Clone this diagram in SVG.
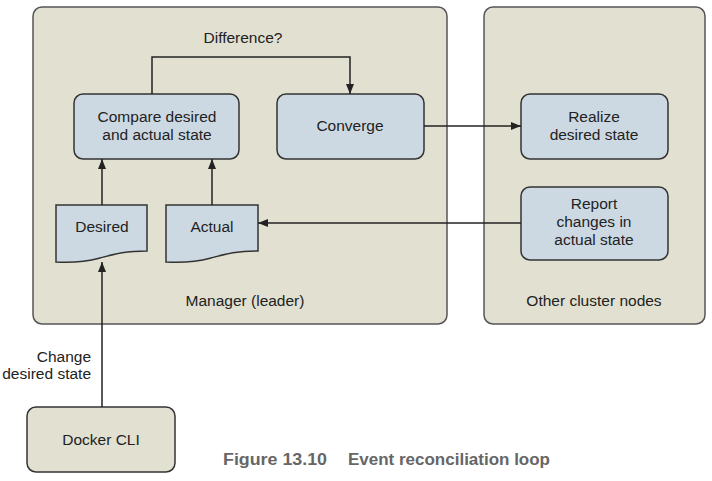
<svg xmlns="http://www.w3.org/2000/svg" width="712" height="481" viewBox="0 0 712 481">
<defs>
<style>
.cont{fill:#e1e0d1;stroke:#555;stroke-width:1.5}
.box{fill:#cdd9e2;stroke:#333;stroke-width:1.5}
.t{font-family:"Liberation Sans",Arial,sans-serif;font-size:15.5px;fill:#222;text-anchor:middle}
.conn{fill:none;stroke:#222;stroke-width:1.5}
.cap{font-family:"Liberation Sans",Arial,sans-serif;font-size:16px;font-weight:bold;fill:#666}
</style>
<marker id="ah" viewBox="0 0 10 8" refX="10" refY="4" markerWidth="10" markerHeight="8" markerUnits="userSpaceOnUse" orient="auto">
<path d="M0,0 L10,4 L0,8 z" fill="#222"/>
</marker>
</defs>
<rect width="712" height="481" fill="#fff"/>
<g id="manager">
<rect class="cont" x="33" y="7" width="414" height="317" rx="9"/>
<text class="t" x="245" y="306">Manager (leader)</text>
</g>
<g id="other-nodes">
<rect class="cont" x="484" y="7" width="221" height="317" rx="9"/>
<text class="t" x="594" y="306">Other cluster nodes</text>
</g>
<g id="compare">
<rect class="box" x="74" y="94" width="165" height="65" rx="9"/>
<text class="t" x="157" y="122">Compare desired</text>
<text class="t" x="157" y="140">and actual state</text>
</g>
<g id="converge">
<rect class="box" x="277" y="94" width="147" height="65" rx="9"/>
<text class="t" x="350" y="131">Converge</text>
</g>
<g id="desired">
<path class="box" d="M56,205 H147 V251 C125,251 115,254 100,258 C85,262 70,263 56,262 Z"/>
<text class="t" x="102" y="232">Desired</text>
</g>
<g id="actual">
<path class="box" d="M166,205 H258 V251 C236,251 226,254 211,258 C196,262 181,263 166,262 Z"/>
<text class="t" x="212" y="232">Actual</text>
</g>
<g id="realize">
<rect class="box" x="521" y="94" width="147" height="65" rx="9"/>
<text class="t" x="594" y="122">Realize</text>
<text class="t" x="594" y="140">desired state</text>
</g>
<g id="report">
<rect class="box" x="521" y="187" width="147" height="73" rx="9"/>
<text class="t" x="594" y="209">Report</text>
<text class="t" x="594" y="227">changes in</text>
<text class="t" x="594" y="245">actual state</text>
</g>
<g id="docker-cli">
<rect class="cont" x="27" y="407" width="148" height="65" rx="9" style="stroke:#333"/>
<text class="t" x="101" y="445">Docker CLI</text>
</g>
<g id="connectors">
<path class="conn" d="M152,94 V57 H350 V94" marker-end="url(#ah)"/>
<text class="t" x="243" y="43">Difference?</text>
<path class="conn" d="M102,205 V159" marker-end="url(#ah)"/>
<path class="conn" d="M212,205 V159" marker-end="url(#ah)"/>
<path class="conn" d="M424,126 H521" marker-end="url(#ah)"/>
<path class="conn" d="M521,223 H258" marker-end="url(#ah)"/>
<path class="conn" d="M102,407 V262" marker-end="url(#ah)"/>
<text class="t" x="91" y="362" style="text-anchor:end">Change</text>
<text class="t" x="91" y="379" style="text-anchor:end">desired state</text>
</g>
<text class="cap" x="223" y="465" textLength="104" lengthAdjust="spacingAndGlyphs">Figure 13.10</text>
<text class="cap" x="348" y="465" textLength="202" lengthAdjust="spacingAndGlyphs">Event reconciliation loop</text>
</svg>
